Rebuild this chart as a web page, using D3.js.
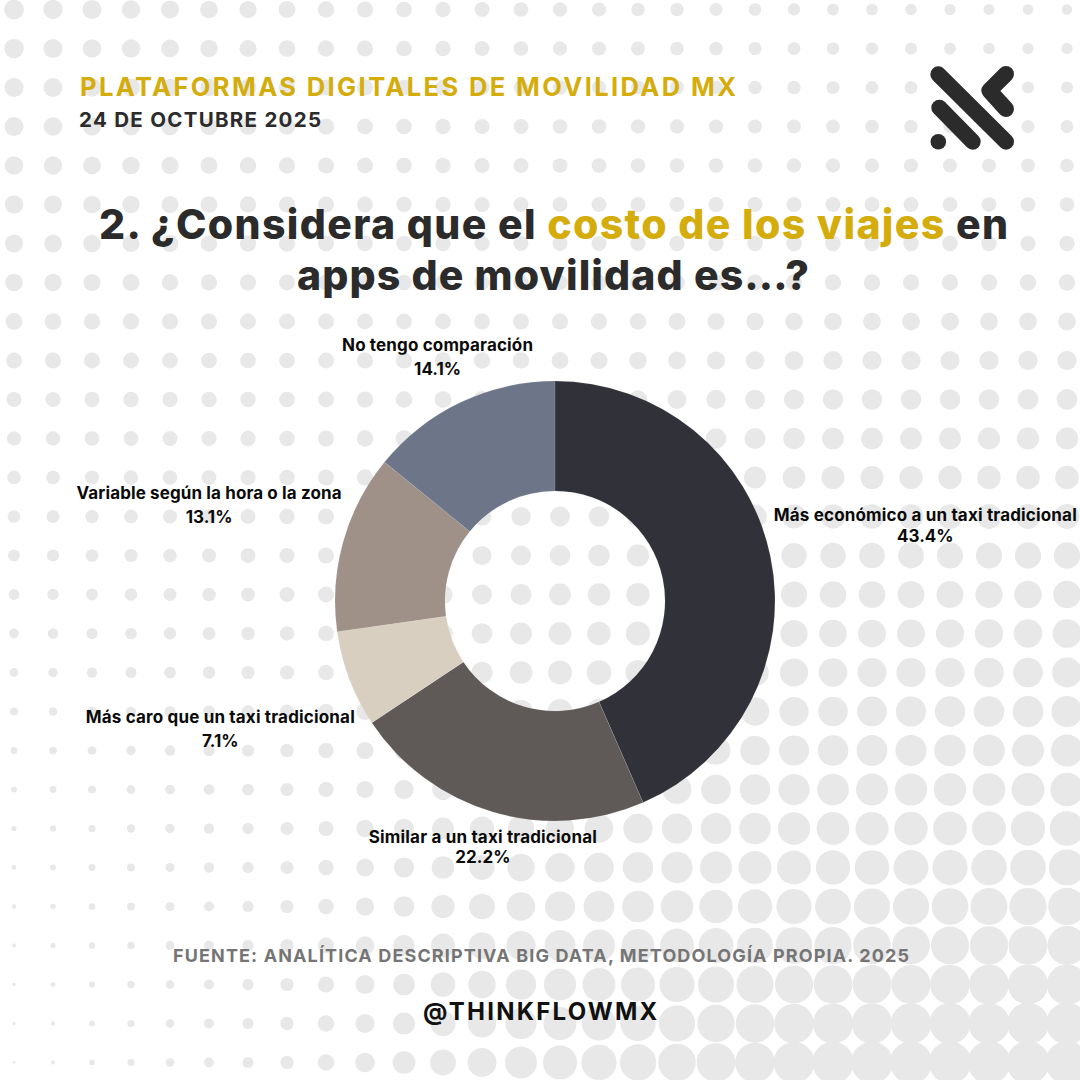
<!DOCTYPE html>
<html>
<head>
<meta charset="utf-8">
<script src="https://cdn.jsdelivr.net/npm/d3@7"></script>
<style>
	html, body { margin: 0; padding: 0; background: #fff; }
	svg { display: block; }
	text { font-family: Inter, "Noto Sans", sans-serif; }
</style>
</head>
<body>
<div id="chart"></div>
<script>
const categories = [
	"Más económico a un taxi tradicional",
	"Similar a un taxi tradicional",
	"Más caro que un taxi tradicional",
	"Variable según la hora o la zona",
	"No tengo comparación"
];
const values = [43.4, 22.2, 7.1, 13.1, 14.1];
const colors = ["#31313a", "#5f5a58", "#d9cfc0", "#9f9088", "#6d7589"];

// label offset from the slice's outer edge point, and gap between its two lines
const labelOffsets = [[155, -35], [-10, 31], [-129, 44], [-134, -43], [-23, -51]];
const labelGaps = [20.5, 20, 24, 24, 24];
const labelWidths = [303, 228, 269, 265, 191];

// radius of the background dots, read at the corners of a coarse grid
const dotX = [0, 270, 540, 810, 1080];
const dotY = [0, 270, 540, 810, 1080];
const dotR = [
	[10, 8.5, 7.2, 6, 5],
	[9, 8, 7.5, 8, 8],
	[6, 7.5, 10, 12.5, 13],
	[2.5, 6, 13.5, 16, 17],
	[1, 6, 17, 21, 22]
];

const size = 1080;
const cx = 555, cy = 601, outer = 220, inner = 110;

const svg = d3.select("#chart").append("svg")
	.attr("width", size)
	.attr("height", size);

function dotRadius (x, y) {
	const ix = Math.min(Math.floor(x / 270), 3);
	const iy = Math.min(Math.floor(y / 270), 3);
	const tx = (x - dotX[ix]) / 270;
	const ty = (y - dotY[iy]) / 270;
	const top = d3.interpolateNumber(dotR[iy][ix], dotR[iy][ix + 1])(tx);
	const bot = d3.interpolateNumber(dotR[iy + 1][ix], dotR[iy + 1][ix + 1])(tx);
	return d3.interpolateNumber(top, bot)(ty);
}

const grid = [];
for (let j = 0; j < 28; j++) {
	for (let i = 0; i < 28; i++) {
		grid.push({ x: 14 + i * 39, y: 9.5 + j * 39 });
	}
}

svg.append("g").selectAll("circle")
	.data(grid)
	.join("circle")
	.attr("cx", d => d.x)
	.attr("cy", d => d.y)
	.attr("r", d => dotRadius(d.x, d.y))
	.attr("fill", "#e8e8e8");

// stretch a text to the width it has in the picture
function fitWidth (sel, target) {
	const n = sel.text().length;
	const w = sel.node().getComputedTextLength();
	sel.style("letter-spacing", ((target - w) / (n - 1)) + "px");
	return sel;
}

function headText (x, y, str, fontSize, weight, fill, target, anchor) {
	const t = svg.append("text")
		.attr("x", x)
		.attr("y", y)
		.attr("text-anchor", anchor || "start")
		.attr("font-size", fontSize)
		.attr("font-weight", weight)
		.attr("fill", fill)
		.text(str);
	return fitWidth(t, target);
}

headText(80, 96, "PLATAFORMAS DIGITALES DE MOVILIDAD MX", 25.5, 700, "#d4ad0d", 656);
headText(79, 127, "24 DE OCTUBRE 2025", 20.5, 700, "#2b2b2b", 242);

// title, first line has a coloured part
const title1 = svg.append("text")
	.attr("x", 99)
	.attr("y", 239)
	.attr("font-size", 41)
	.attr("font-weight", 800)
	.attr("fill", "#2b2b2b");
title1.append("tspan").text("2. ¿Considera que el ");
title1.append("tspan").attr("fill", "#d4ad0d").text("costo de los viajes");
title1.append("tspan").text(" en");
fitWidth(title1, 909);

headText(297, 290, "apps de movilidad es…?", 41, 800, "#2b2b2b", 512);

// logo
const logo = svg.append("g")
	.attr("fill", "none")
	.attr("stroke", "#2b2b2b")
	.attr("stroke-width", 16)
	.attr("stroke-linecap", "round")
	.attr("stroke-linejoin", "round");
logo.append("path").attr("d", "M938.3,74.3L1006,141.7");
logo.append("path").attr("d", "M939.3,107.7L972.7,141.7");
logo.append("path").attr("d", "M1006,74L989.3,90.7L1006,109");
svg.append("circle")
	.attr("cx", 938.3)
	.attr("cy", 141.7)
	.attr("r", 7.8)
	.attr("fill", "#2b2b2b");

// donut
const pie = d3.pie().sort(null).value(d => d);
const arcs = pie(values);
const arc = d3.arc().innerRadius(inner).outerRadius(outer);
const edge = d3.arc().innerRadius(outer).outerRadius(outer);

const donut = svg.append("g")
	.attr("transform", "translate(" + cx + "," + cy + ")");

donut.selectAll("path")
	.data(arcs)
	.join("path")
	.attr("d", arc)
	.attr("fill", (d, i) => colors[i])
	.attr("stroke", "#fff")
	.attr("stroke-opacity", 0.2)
	.attr("stroke-width", 0.5);

arcs.forEach((d, i) => {
	const p = edge.centroid(d);
	const x = cx + p[0] + labelOffsets[i][0];
	const y = cy + p[1] + labelOffsets[i][1];
	const name = svg.append("text")
		.attr("x", x)
		.attr("y", y)
		.attr("text-anchor", "middle")
		.attr("font-size", 17)
		.attr("font-weight", 700)
		.attr("fill", "#0a0a0a")
		.text(categories[i]);
	fitWidth(name, labelWidths[i]);
	svg.append("text")
		.attr("x", x)
		.attr("y", y + labelGaps[i])
		.attr("text-anchor", "middle")
		.attr("font-size", 17)
		.attr("font-weight", 700)
		.attr("fill", "#0a0a0a")
		.text(values[i].toFixed(1) + "%");
});

// footer
headText(173, 962, "FUENTE: ANALÍTICA DESCRIPTIVA BIG DATA, METODOLOGÍA PROPIA. 2025", 18, 700, "#757575", 736);
headText(423, 1020, "@THINKFLOWMX", 24, 700, "#111111", 235);
</script>
</body>
</html>
